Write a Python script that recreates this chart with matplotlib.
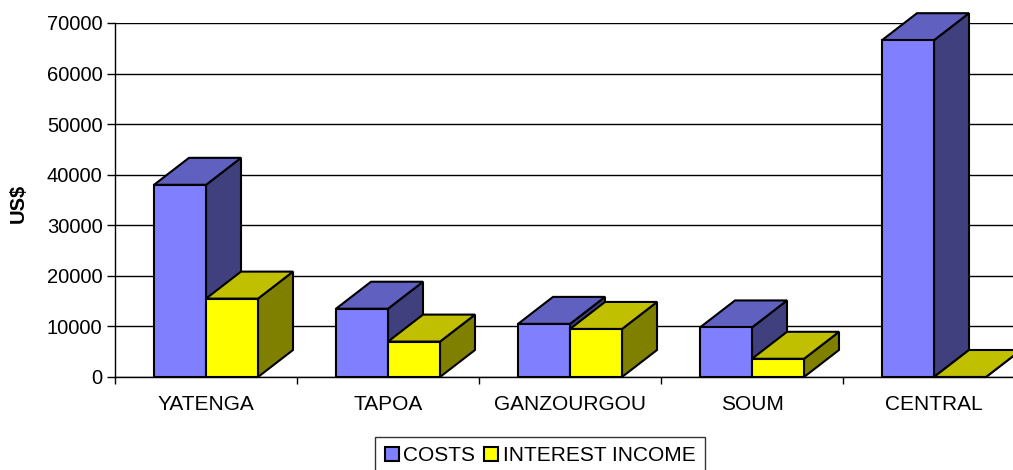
import matplotlib.pyplot as plt
from matplotlib.patches import Polygon, Patch
import numpy as np

plt.rcParams['font.family'] = ['Liberation Sans', 'DejaVu Sans']

categories = ['YATENGA', 'TAPOA', 'GANZOURGOU', 'SOUM', 'CENTRAL']
costs = [38000, 13500, 10500, 9800, 66600]
interest_income = [15500, 7000, 9500, 3600, 0]

FRONT = {'costs': '#8080FF', 'income': '#FFFF00'}
TOP = {'costs': '#6060C0', 'income': '#C0C000'}
SIDE = {'costs': '#40407F', 'income': '#808000'}


def draw_box(ax, x0, w, h, dx, dy, key, z):
    x1 = x0 + w
    kw = dict(edgecolor='black', linewidth=1.5, joinstyle='miter', clip_on=False, zorder=z)
    ax.add_patch(Polygon([(x1, 0), (x1 + dx, dy), (x1 + dx, h + dy), (x1, h)],
                         facecolor=SIDE[key], **kw))
    ax.add_patch(Polygon([(x0, h), (x1, h), (x1 + dx, h + dy), (x0 + dx, h + dy)],
                         facecolor=TOP[key], **kw))
    ax.add_patch(Polygon([(x0, 0), (x1, 0), (x1, h), (x0, h)],
                         facecolor=FRONT[key], **kw))


fig = plt.figure(figsize=(10.13, 4.70), dpi=100)
ax = fig.add_axes([115 / 1013, 93 / 470, 910 / 1013, 354 / 470])
ax.set_xlim(0, len(categories))
ax.set_ylim(0, 70000)

w = 52 / 182
dx = 35 / 182
dy = 27 / 354 * 70000
centers = np.arange(len(categories)) + 0.5
for i, c in enumerate(centers):
    draw_box(ax, c - w, w, costs[i], dx, dy, 'costs', 3)
    draw_box(ax, c, w, interest_income[i], dx, dy, 'income', 4)

ax.set_yticks(np.arange(0, 70001, 10000))
ax.yaxis.grid(True, color='black', linewidth=1)
ax.set_axisbelow(True)
ax.tick_params(axis='y', direction='out', length=6, width=1, pad=3, labelsize=14.5)
ax.set_xticks(centers)
ax.set_xticklabels(categories)
ax.set_xticks(np.arange(len(categories) + 1), minor=True)
ax.tick_params(axis='x', which='major', length=0, pad=13, labelsize=15)
ax.tick_params(axis='x', which='minor', direction='out', length=5, width=1)
for s in ['top', 'right']:
    ax.spines[s].set_visible(False)
for s in ['left', 'bottom']:
    ax.spines[s].set_linewidth(1)
ax.set_facecolor('none')

fig.text(18 / 1013, 267 / 470, 'US$', rotation=90, fontsize=14.5, fontweight='bold',
         ha='center', va='center')

handles = [Patch(facecolor=FRONT['costs'], edgecolor='black', linewidth=1.5, label='COSTS'),
           Patch(facecolor=FRONT['income'], edgecolor='black', linewidth=1.5, label='INTEREST INCOME')]
leg = fig.legend(handles=handles, loc='upper center', bbox_to_anchor=(540 / 1013, 33 / 470),
                 ncol=2, fontsize=15, frameon=True, fancybox=False, handlelength=0.7,
                 handleheight=0.7, handletextpad=0.2, columnspacing=0.4, borderpad=0.45,
                 borderaxespad=0)
leg.get_frame().set_edgecolor('black')
leg.get_frame().set_linewidth(1)

fig.savefig('out.png', dpi=100)
